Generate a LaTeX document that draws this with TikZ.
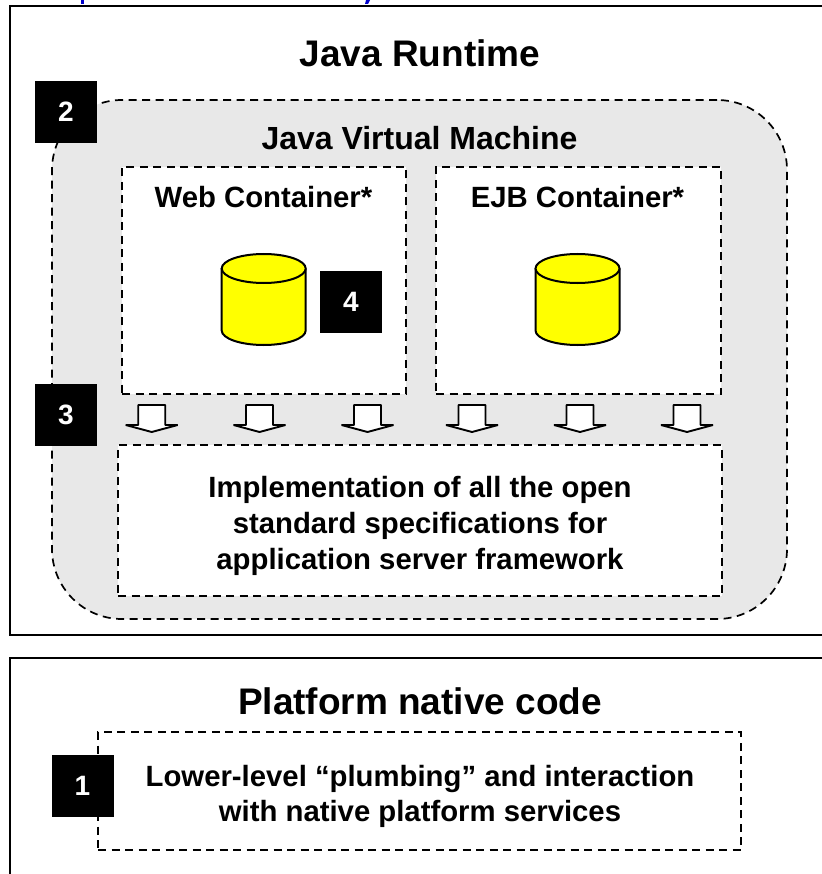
\documentclass[tikz,border=0pt]{standalone}
\usepackage{fontspec}
\setmainfont{Liberation Sans}
\usepackage{tikz}
\usetikzlibrary{positioning}
\definecolor{jvmgray}{HTML}{E8E8E8}
\definecolor{topblue}{HTML}{0000CC}
\definecolor{drumyellow}{HTML}{FFFF00}
\tikzset{
  outerbox/.style={draw,line width=1.8pt,anchor=north west,inner sep=0pt,outer sep=0pt},
  dashbox/.style={draw,dash pattern=on 8pt off 5.5pt,line width=1.7pt,anchor=north west,inner sep=0pt,outer sep=0pt,fill=white},
  jvmbox/.style={dashbox,fill=jvmgray,rounded corners=70pt},
  numbox/.style={fill=black,text=white,font=\fontsize{28}{28}\bfseries\selectfont,minimum size=62pt,inner sep=0pt,outer sep=0pt},
  bigtitle/.style={font=\fontsize{37}{37}\bfseries\selectfont},
  jvmlabel/.style={font=\fontsize{32}{32}\bfseries\selectfont},
  boxtitle/.style={font=\fontsize{29.3}{32}\bfseries\selectfont},
  bodytext/.style={font=\fontsize{29.3}{36}\bfseries\selectfont,align=center},
  lowertext/.style={font=\fontsize{29.3}{35}\bfseries\selectfont,align=center},
  drumline/.style={draw,fill=drumyellow,line width=2pt},
  downarrow/.style={draw,fill=white,line width=1.9pt,miter limit=1}
}
\begin{document}
\begin{tikzpicture}[x=1pt,y=-1pt]
\useasboundingbox (0,0) rectangle (821,874);
% outer frames
\node[outerbox,minimum width=830pt,minimum height=629pt] (runtime) at (10,6) {};
\node[outerbox,minimum width=830pt,minimum height=240pt] (native) at (10,658) {};
\node[bigtitle] (runtimetitle) at (420,53) {Java Runtime};
\node[bigtitle] (nativetitle) at (420,701) {Platform native code};
% jvm
\node[jvmbox,minimum width=735pt,minimum height=519pt] (jvm) at (52,100) {};
\node[jvmlabel] (jvmtitle) at (419.5,138) {Java Virtual Machine};
\node[dashbox,minimum width=284pt,minimum height=227pt] (web) at (122,167) {};
\node[dashbox,minimum width=285pt,minimum height=227pt] (ejb) at (436,167) {};
\node[boxtitle] (webtitle) at (263.5,197) {Web Container*};
\node[boxtitle] (ejbtitle) at (577.5,197) {EJB Container*};
% drums
\foreach \x in {263.7,577.5}{
  \draw[drumline] (\x-42,268.5) -- (\x-42,330.5)
    arc[start angle=180,end angle=0,x radius=42,y radius=14.5] -- (\x+42,268.5);
  \draw[drumline] (\x,268.5) circle[x radius=42,y radius=14.5];
}
% arrows
\foreach \x in {151.7,259.5,367.5,472,580,687}
  \draw[downarrow] (\x-13.5,405) -- (\x+13.5,405) -- (\x+13.5,425) -- (\x+26,425)
    -- (\x,432) -- (\x-26,425) -- (\x-13.5,425) -- cycle;
\node[dashbox,minimum width=604pt,minimum height=151pt] (impl) at (118,445) {};
\node[bodytext] (impltext) at (420,526) {Implementation of all the open\\standard specifications for\\application server framework};
\node[dashbox,minimum width=643pt,minimum height=118pt] (lower) at (98,732) {};
\node[lowertext] (lowerlabel) at (420,796) {Lower-level “plumbing” and interaction\\with native platform services};
% numbers
\node[numbox] (one) at (82.5,786) {1};
\node[numbox] (two) at (66,112) {2};
\node[numbox] (three) at (66,415) {3};
\node[numbox] (four) at (351,302) {4};
% cut off text at the top
\fill[topblue] (81,0) rectangle (84,4);
\fill[topblue] (366,0) -- (370,0) -- (368,4) -- (365,4) -- cycle;
\end{tikzpicture}
\end{document}
